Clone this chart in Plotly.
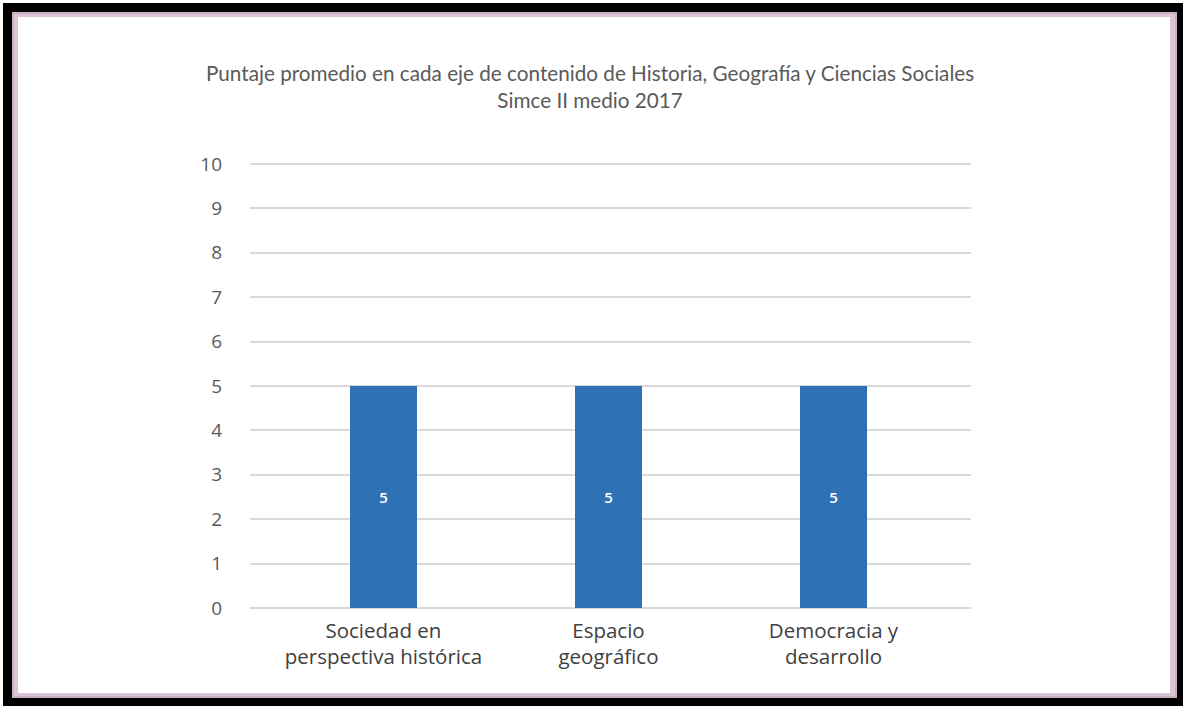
import plotly.graph_objects as go

# Scores per content axis
categories = ["Sociedad en<br>perspectiva histórica", "Espacio<br>geográfico", "Democracia y<br>desarrollo"]
scores = [5, 5, 5]
y_ticks = [0, 1, 2, 3, 4, 5, 6, 7, 8, 9, 10]

W, H = 1183, 706
L, R, T, B = 250, 212, 160, 98
PW, PH = W - L - R, H - T - B


def px_x(x):
    return (x - L) / PW


def px_y(y):
    return (H - B - y) / PH


fig = go.Figure()
fig.add_trace(go.Bar(
    x=[0, 1, 2],
    y=scores,
    width=0.3,
    marker=dict(color="#2e71b5", line=dict(width=0)),
    text=[str(v) for v in scores],
    textposition="inside",
    insidetextanchor="middle",
    textfont=dict(family="Open Sans", size=15, color="white", weight=600),
    textangle=0,
    hoverinfo="skip",
))

# Outer frame: black border, pink inner rule, white page
shapes = [
    dict(type="rect", xref="paper", yref="paper", layer="below",
         x0=px_x(3), x1=px_x(1185), y0=px_y(708), y1=px_y(3),
         fillcolor="#000000", line=dict(width=0)),
    dict(type="rect", xref="paper", yref="paper", layer="below",
         x0=px_x(12), x1=px_x(1177), y0=px_y(698), y1=px_y(12),
         fillcolor="#c9afc2", line=dict(width=0)),
    dict(type="rect", xref="paper", yref="paper", layer="below",
         x0=px_x(14), x1=px_x(1175), y0=px_y(696), y1=px_y(14),
         fillcolor="#dcc6d6", line=dict(width=0)),
    dict(type="rect", xref="paper", yref="paper", layer="below",
         x0=px_x(18), x1=px_x(1170), y0=px_y(693), y1=px_y(17),
         fillcolor="#ffffff", line=dict(width=0)),
]

fig.add_annotation(
    xref="paper", yref="paper", x=px_x(590), y=px_y(87),
    xanchor="center", yanchor="middle", showarrow=False,
    text="Puntaje promedio en cada eje de contenido de Historia, Geografía y Ciencias Sociales<br>Simce II medio 2017",
    font=dict(family="Lato", size=20.7, color="#5a5a5a"),
    align="center",
)

fig.update_layout(
    width=W, height=H,
    margin=dict(l=L, r=R, t=T, b=B, pad=0),
    paper_bgcolor="#ffffff",
    plot_bgcolor="rgba(0,0,0,0)",
    showlegend=False,
    shapes=shapes,
    bargap=0,
    xaxis=dict(
        range=[-0.593, 2.611],
        tickvals=[0, 1, 2],
        ticktext=categories,
        showgrid=False, zeroline=False, showline=False,
        ticks="", fixedrange=True,
        tickfont=dict(family="Open Sans", size=20.5, color="#404040", weight=500),
        ticklabelstandoff=8,
    ),
    yaxis=dict(
        range=[0, 10.09],
        tickvals=y_ticks,
        showgrid=True, gridcolor="#d9d9d9", gridwidth=1.5,
        zeroline=True, zerolinecolor="#d9d9d9", zerolinewidth=1.5,
        showline=False, ticks="", fixedrange=True,
        tickfont=dict(family="Open Sans", size=19, color="#595959"),
        ticklabelstandoff=27,
    ),
)

fig.write_html("out.html", config={"displayModeBar": False})
